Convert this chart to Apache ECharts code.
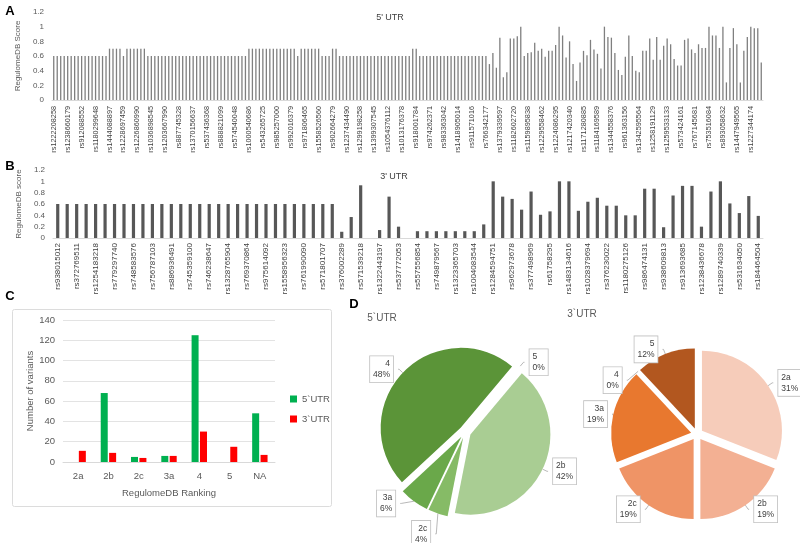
<!DOCTYPE html>
<html><head><meta charset="utf-8">
<script src="https://cdn.jsdelivr.net/npm/echarts@6/dist/echarts.min.js"></script>
<style>html,body{margin:0;padding:0;background:#fff}#c{width:800px;height:543px}</style>
</head><body><div id="c"></div>
<script>
// ---------- Panel A : 5' UTR RegulomeDB scores ----------
const labelsA = ['rs1222208258','rs1238660179','rs912088552','rs1180299648','rs1444088897','rs1228697459','rs1226860990','rs1036898545','rs1203667990','rs887745328','rs1370156637','rs537436368','rs888821099','rs574540048','rs1000540686','rs543265725','rs985257000','rs992016379','rs971806465','rs1558526560','rs902664279','rs1237434490','rs1299198258','rs1399307545','rs1054376112','rs1013176378','rs918001784','rs974262371','rs983363042','rs1418905014','rs911571016','rs766342177','rs1379339597','rs1182602720','rs1159895838','rs1229558462','rs1224086295','rs1217420340','rs1171280885','rs1184169589','rs1344558376','rs961363156','rs1342595564','rs1258191129','rs1259533133','rs573424161','rs767145681','rs753516084','rs893058632','rs1447949565','rs1227344174'];
const scoresA = [
0.6,0.6,0.6,0.6,0.6,0.6,0.6,0.6,0.6,0.6,0.6,0.6,0.6,0.6,0.6,0.6,
0.7,0.7,0.7,0.7,0.6,0.7,0.7,0.7,0.7,0.7,0.7,
0.6,0.6,0.6,0.6,0.6,0.6,0.6,0.6,0.6,0.6,0.6,0.6,0.6,0.6,0.6,0.6,0.6,0.6,0.6,0.6,0.6,0.6,0.6,0.6,0.6,0.6,0.6,0.6,0.6,
0.7,0.7,0.7,0.7,0.7,0.7,0.7,0.7,0.7,0.7,0.7,0.7,0.7,0.7,
0.6,0.7,0.7,0.7,0.7,0.7,0.7,0.6,0.6,0.6,0.7,0.7,
0.6,0.6,0.6,0.6,0.6,0.6,0.6,0.6,0.6,0.6,0.6,0.6,0.6,0.6,0.6,0.6,0.6,0.6,0.6,0.6,0.6,
0.7,0.7,
0.6,0.6,0.6,0.6,0.6,0.6,0.6,0.6,0.6,0.6,0.6,0.6,0.6,0.6,0.6,0.6,0.6,0.6,0.6,0.6,
0.49,0.64,0.44,0.85,0.31,0.38,0.84,0.84,0.87,1.0,0.6,0.64,0.65,0.78,0.67,0.7,0.59,0.67,0.67,0.75,
1.0,0.88,0.58,0.8,0.49,0.26,0.51,0.67,0.61,0.82,0.69,0.63,0.43,1.0,0.86,0.85,0.64,0.41,0.34,0.59,
0.88,0.6,0.4,0.38,0.67,0.67,0.84,0.55,0.86,0.55,0.74,0.84,0.76,0.56,0.47,0.47,0.82,0.84,0.69,0.64,
0.76,0.71,0.71,1.0,0.88,0.88,0.71,1.0,0.24,0.71,0.98,0.76,0.24,0.67,0.86,1.0,0.98,0.98,0.51];

// ---------- Panel B : 3' UTR RegulomeDB scores ----------
const labelsB = ['rs938015012','rs372769511','rs1254183218','rs779297740','rs748583576','rs756787103','rs886936491','rs745359100','rs746238647','rs1328765904','rs769370864','rs975614092','rs1558956323','rs761990090','rs571801707','rs376002289','rs571539218','rs1322443197','rs537772053','rs557556854','rs749879567','rs1323365703','rs1004083544','rs1284594751','rs962973678','rs377498969','rs61758295','rs1483134616','rs1028379694','rs376230022','rs1180275126','rs986474131','rs938609813','rs913693685','rs1238436678','rs1289740339','rs531634050','rs184464504'];
const scoresB = [
0.6,0.6,0.6,0.6,0.6,0.6,0.6,0.6,0.6,0.6,0.6,0.6,0.6,0.6,0.6,0.6,0.6,0.6,0.6,0.6,0.6,0.6,0.6,0.6,0.6,0.6,0.6,0.6,0.6,0.6,
0.11,0.37,0.93,0,0.14,0.73,0.2,0,
0.12,0.12,0.12,0.12,0.12,0.12,0.12,
0.24,1.0,0.73,0.69,0.5,0.82,0.41,0.47,1.0,1.0,0.48,0.64,0.71,0.57,0.57,0.4,0.4,0.87,0.87,0.19,
0.75,0.92,0.92,0.2,0.82,1.0,0.61,0.44,0.74,0.39];

// ---------- Panel C : counts per ranking ----------
const rankings = ['2a','2b','2c','3a','4','5','NA'];
const counts5 = [0,68,5,6,125,0,48];
const counts3 = [11,9,4,6,30,15,7];

// ---------- Panel D : pie percentages ----------
const pie5Names = ['2b','2c','3a','4','5'];
const pie5Values = [42,4,6,48,0];
const pie5Colors = ['#a9cd93','#86bb66','#6aa84a','#5b9438','#3d6b22'];
const pie3Names = ['2a','2b','2c','3a','4','5'];
const pie3Values = [31,19,19,19,0,12];
const pie3Colors = ['#f6ccba','#f3b093','#ef9466','#e8782f','#c55a11','#b2571f'];

const FONT = "'Liberation Sans', Arial, sans-serif";
const chart = echarts.init(document.getElementById('c'));

const idxA = scoresA.map((_, i) => String(i));
const idxB = scoresB.map((_, i) => String(i));

function scoreY(grid, name) {
  return {
    type: 'value', gridIndex: grid, min: 0, max: 1.2, interval: 0.2,
    splitLine: {show: false}, axisLine: {show: false}, axisTick: {show: false},
    axisLabel: {fontSize: 8, color: '#595959', fontFamily: FONT, margin: 8,
      formatter: v => String(+v.toFixed(1))},
    name: name, nameLocation: 'middle', nameRotate: 90, nameGap: 17,
    nameTextStyle: {fontSize: 8, color: '#595959', fontFamily: FONT}
  };
}

const option = {
  animation: false,
  grid: [
    {left: 52, right: 37, top: 12, height: 88},
    {left: 53, right: 37, top: 170, height: 68},
    {left: 63, top: 320, width: 212, height: 142}
  ],
  xAxis: [
    {type: 'category', gridIndex: 0, data: idxA,
     axisTick: {show: false}, axisLine: {lineStyle: {color: '#d9d9d9'}},
     axisLabel: {interval: 0, rotate: 90, fontSize: 7.3, color: '#404040', fontFamily: FONT, margin: 6,
       formatter: (v, i) => (i % 4 === 0 ? labelsA[i / 4] : '')}},
    {type: 'category', gridIndex: 1, data: idxB,
     axisTick: {show: false}, axisLine: {lineStyle: {color: '#d9d9d9'}},
     axisLabel: {interval: 0, rotate: 90, fontSize: 8, color: '#404040', fontFamily: FONT, margin: 5,
       formatter: (v, i) => (i % 2 === 0 ? labelsB[i / 2] : '')}},
    {type: 'category', gridIndex: 2, data: rankings,
     axisTick: {show: false}, axisLine: {lineStyle: {color: '#d9d9d9'}},
     axisLabel: {fontSize: 9.5, color: '#595959', fontFamily: FONT, margin: 9},
     name: 'RegulomeDB Ranking', nameLocation: 'middle', nameGap: 26,
     nameTextStyle: {fontSize: 9.5, color: '#595959', fontFamily: FONT}}
  ],
  yAxis: [
    scoreY(0, 'RegulomeDB Score'),
    scoreY(1, 'RegulomeDB score'),
    {type: 'value', gridIndex: 2, min: 0, max: 140, interval: 20,
     splitLine: {lineStyle: {color: '#e3e3e3'}}, axisLine: {show: false}, axisTick: {show: false},
     axisLabel: {fontSize: 9.5, color: '#595959', fontFamily: FONT, margin: 8},
     name: 'Number of variants', nameLocation: 'middle', nameRotate: 90, nameGap: 28,
     nameTextStyle: {fontSize: 9.5, color: '#595959', fontFamily: FONT}}
  ],
  legend: {
    data: ['5`UTR', '3`UTR'], orient: 'vertical', left: 285, top: 389,
    itemWidth: 7, itemHeight: 7, itemGap: 10, icon: 'rect',
    textStyle: {fontSize: 9.5, color: '#595959', fontFamily: FONT}
  },
  series: [
    {type: 'bar', xAxisIndex: 0, yAxisIndex: 0, data: scoresA, barWidth: 1.3,
     itemStyle: {color: '#7f7f7f'}, silent: true},
    {type: 'bar', xAxisIndex: 1, yAxisIndex: 1, data: scoresB, barWidth: 3.2,
     itemStyle: {color: '#575757'}, silent: true},
    {type: 'bar', name: '5`UTR', xAxisIndex: 2, yAxisIndex: 2, data: counts5, barWidth: 7, barGap: '20%',
     itemStyle: {color: '#00b050'}, silent: true},
    {type: 'bar', name: '3`UTR', xAxisIndex: 2, yAxisIndex: 2, data: counts3, barWidth: 7, barGap: '20%',
     itemStyle: {color: '#ff0000'}, silent: true},
    pieSeries(pie5Names, pie5Values, pie5Colors, [465, 432], 50),
    pieSeries(pie3Names, pie3Values, pie3Colors, [697, 434], 90)
  ],
  graphic: [
    {type: 'rect', shape: {x: 12.5, y: 309.5, width: 319, height: 197, r: 2},
     style: {fill: 'none', stroke: '#dcdcdc', lineWidth: 1}, z: -1},
    txt('A', 10, 11, 'bold 13px ' + FONT, '#000'),
    txt('B', 10, 166, 'bold 13px ' + FONT, '#000'),
    txt('C', 10, 296, 'bold 13px ' + FONT, '#000'),
    txt('D', 354, 304, 'bold 13px ' + FONT, '#000'),
    txt("5' UTR", 390, 18, '9px ' + FONT, '#404040'),
    txt("3' UTR", 394, 177, '9px ' + FONT, '#404040'),
    txt('5`UTR', 382, 318, '10px ' + FONT, '#595959'),
    txt('3`UTR', 582, 314, '10px ' + FONT, '#595959')
  ]
};

function txt(t, x, y, font, fill) {
  return {type: 'text', x: x, y: y, silent: true,
    style: {text: t, font: font, fill: fill, textAlign: 'center', textVerticalAlign: 'middle'}};
}

function pieSeries(names, values, colors, center, startAngle) {
  return {
    type: 'pie', center: center, radius: 80, startAngle: startAngle, clockwise: true,
    selectedMode: 'multiple', selectedOffset: 6, avoidLabelOverlap: true,
    emphasis: {disabled: true}, silent: true,
    data: names.map((n, i) => ({name: n, value: values[i], selected: true,
      itemStyle: {color: colors[i]}})),
    label: {position: 'outside', formatter: p => p.name + '\n' + p.value + '%',
      fontSize: 8.5, fontFamily: FONT, color: '#404040', lineHeight: 11, align: 'center',
      overflow: 'none', bleedMargin: 2,
      backgroundColor: '#fff', borderColor: '#bfbfbf', borderWidth: 0.8, padding: [2, 3]},
    labelLine: {length: 5, length2: 1, lineStyle: {color: '#a6a6a6', width: 0.8}}
  };
}

chart.setOption(option);
</script></body></html>
